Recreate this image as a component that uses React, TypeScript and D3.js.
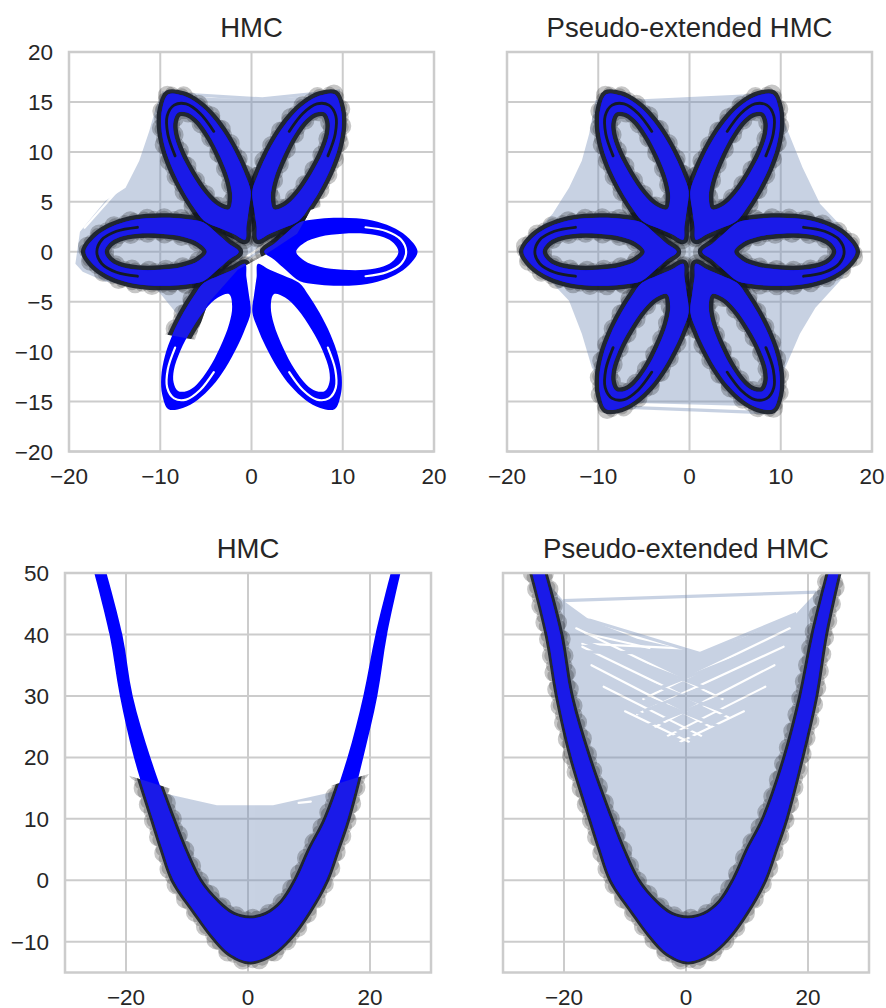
import React, { useEffect, useRef } from "react";
import * as d3 from "d3";

type Pt = [number, number];

const WIDTH = 886;
const HEIGHT = 1008;

const panelTitles = ["HMC", "Pseudo-extended HMC", "HMC", "Pseudo-extended HMC"];

const flowerTicksX = [-20, -10, 0, 10, 20];
const flowerTicksY = [-20, -15, -10, -5, 0, 5, 10, 15, 20];
const bananaTicksX = [-20, 0, 20];
const bananaTicksY = [-10, 0, 10, 20, 30, 40, 50];

// one petal of the flower target, pointing along +x (u along the petal, v across it)
const petalEdge: Pt[] = [
  [1.4, 0], [2.5, 0.8], [3.8, 1.85], [5.3, 2.95], [7, 3.25], [9, 3.4], [11.5, 3.35],
  [13.8, 3.0], [15.8, 2.3], [17.3, 1.3], [18.2, 0], [17.3, -1.3], [15.8, -2.3],
  [13.8, -3.0], [11.5, -3.35], [9, -3.4], [7, -3.25], [5.3, -2.95], [3.8, -1.85], [2.5, -0.8],
];
const petalHole: Pt[] = [
  [4.9, 0], [5.8, 0.9], [7.5, 1.5], [10, 1.8], [12.5, 1.8], [14.5, 1.45], [15.6, 0.85],
  [16.1, 0], [15.6, -0.85], [14.5, -1.45], [12.5, -1.8], [10, -1.8], [7.5, -1.5], [5.8, -0.9],
];
// thin split between the two contour levels near the tip
const petalSplit: Pt[] = [
  [12.5, 2.45], [14.8, 2.05], [16.4, 1.2], [16.95, 0], [16.4, -1.2], [14.8, -2.05], [12.5, -2.45],
];
const petalAngles = [0, 60, 120, 180, 240, 300];

// banana target: outer (lower) and inner (upper) edges of the band
const bananaOuter: Pt[] = [
  [-25.2, 50], [-22.7, 40], [-21.0, 30], [-18.7, 20], [-15.6, 10], [-14, 5], [-12.2, 0],
  [-8.8, -5], [-5.5, -9.4], [-3, -11.9], [0.3, -13.2], [4, -11.9], [6.8, -9.4], [10, -5],
  [12.8, 0], [14.6, 5], [16.3, 10], [18.9, 20], [21.2, 30], [22.8, 40], [25, 50],
];
const bananaInner: Pt[] = [
  [-23.2, 50], [-20.6, 40], [-18.9, 30], [-16, 20], [-12.4, 10], [-10.4, 5], [-8, 0],
  [-5, -3.6], [-2.4, -5.6], [0.3, -6.2], [3, -5.6], [5.6, -3.6], [7.9, 0], [10.2, 5],
  [12.8, 10], [16.3, 20], [18.9, 30], [20.9, 40], [23.4, 50],
];

// HMC on the flower
const hmcFlowerTrace: Pt[] = [
  [-19.3, -1.2], [-18.8, 2], [-16, 5.1], [-13.8, 6.4], [-12.3, 9.1], [-11.2, 12.1],
  [-10.5, 14.4], [-9.8, 15.9], [-4.3, 15.4], [1.2, 15.3], [6.7, 15.6], [9.7, 16.1],
  [9.6, 13], [8, 9], [6.5, 6], [5.5, 3.1], [4.5, 2], [1.5, 0.2], [-1.7, -1.4],
  [-4, -3.5], [-6.5, -5.8], [-7.4, -7.1], [-8.2, -6.2], [-10.5, -3.6], [-13, -3.3],
  [-16, -3], [-18.5, -2],
];
const hmcFlowerSampled: Pt[] = [
  [-22, -5], [-22, 4.5], [-13, 19], [13, 19], [13.5, 13], [9.5, 5], [6.5, 4.2], [5, 1.8],
  [1.5, -0.3], [-1.5, -1.8], [-4.8, -5.2], [-6.2, -8.8], [-9.8, -8.2], [-12, -5],
];
const hmcFlowerLines: Pt[][] = [
  [[-9.8, 15.9], [1.2, 15.3], [9.7, 16.1]],
];
const hmcFlowerGaps: Pt[][] = [
  [[-18.3, 2.4], [-14.6, 6.2]],
  [[-1.2, -0.9], [3.3, 1.8]],
];

// pseudo-extended HMC on the flower
const peFlowerTrace: Pt[] = [
  [-10.3, 15.2], [-5.2, 15.1], [2, 15.4], [8.5, 15.7], [10.2, 13.4], [12.4, 8.4],
  [14.3, 4.8], [16.8, 2.4], [18, 0.3], [16.8, -2.6], [13.8, -5.6], [12.1, -8.2],
  [10.5, -11.6], [8.2, -15.3], [2, -15.1], [-4, -15], [-8.4, -15.1], [-10.7, -11.6],
  [-11.8, -8.2], [-13.2, -4.9], [-16, -2.2], [-18.4, 0.4], [-15, 3.8], [-13.2, 6.4],
  [-11.8, 9.1], [-11, 11.8],
];
const peFlowerLines: Pt[][] = [
  [[-9.5, 15.4], [-5.2, 15.1], [8.6, 15.7]],
  [[-8.8, -14.9], [7.5, -15.3]],
  [[-8.8, -15.5], [8.2, -16.1]],
];
const peFlowerGaps: Pt[][] = [];

// HMC on the banana
const hmcBananaTrace: Pt[] = [
  [-16.2, 15.3], [-14, 14.2], [-5.1, 12.2], [4.1, 12.2], [13.5, 14.3], [15.5, 15.2],
  [14.5, 10], [11.5, 5], [8.5, 0], [5.5, -5], [0.3, -7.5], [-5, -5], [-8.8, 0],
  [-11.8, 5], [-14.4, 10],
];
const hmcBananaSampled: Pt[] = [
  [-30, 20], [-22, 17.8], [-12, 14.7], [12, 14.9], [22, 18], [30, 20.5], [30, -15], [-30, -15],
];
const hmcBananaLines: Pt[][] = [];
const hmcBananaGaps: Pt[][] = [[[8.3, 12.6], [10.3, 12.8]]];

// pseudo-extended HMC on the banana
const peBananaTrace: Pt[] = [
  [-23.6, 49.5], [-20.1, 45.5], [-15.7, 42.3], [-8, 39.3], [2.3, 36.9], [10, 39.8],
  [18.1, 43.4], [21.4, 46.9], [23.6, 49], [21.8, 42], [20, 32], [17.5, 22], [14.5, 12],
  [11, 4], [7, -3], [0.3, -8], [-6.5, -3], [-10.5, 4], [-14, 12], [-17.3, 22],
  [-19.8, 32], [-21.6, 42],
];
const peBananaLines: Pt[][] = [
  [[-20.1, 45.5], [21.4, 46.9]],
  [[-20.1, 42.8], [-15.7, 42.3], [2.3, 36.9], [18.1, 43.4]],
  [[-20.1, 37.2], [2.3, 36.9]],
  [[-18.5, 39.5], [4, 31]],
  [[-17.5, 36.5], [6, 27.5]],
  [[-16, 33.5], [8, 24]],
  [[-14, 30], [4, 22]],
  [[-12, 27], [3, 20.5]],
  [[16.5, 39.5], [-5, 31]],
  [[15.5, 36.5], [-7, 27.5]],
  [[15, 33.5], [-8, 24.5]],
  [[13, 30], [-5, 22]],
  [[11, 27], [-3, 20.5]],
];
const peBananaGaps: Pt[][] = [
  [[-18, 41], [6, 29.5]],
  [[-17, 38], [7, 26.5]],
  [[-15.5, 35], [4, 25]],
  [[-13.5, 31.5], [2.5, 23.5]],
  [[-10, 27.5], [0.5, 22.5]],
  [[17, 41], [-7, 29.5]],
  [[16, 38], [-8, 27]],
  [[14.5, 35], [-5, 25]],
  [[13, 31.5], [-3, 23.5]],
  [[9.5, 27.5], [-1, 22.5]],
  [[-16.5, 40.2], [-6, 37.8]],
  [[-17, 38.5], [2, 37.6]],
];

const panels = [
  {
    key: "tl", title: panelTitles[0], kind: "flower", left: 69, top: 52, width: 365, height: 399.5,
    xDomain: [-20, 20], yDomain: [-20, 20], xTicks: flowerTicksX, yTicks: flowerTicksY, showY: true,
    trace: hmcFlowerTrace, lines: hmcFlowerLines, gaps: hmcFlowerGaps, sampled: hmcFlowerSampled,
  },
  {
    key: "tr", title: panelTitles[1], kind: "flower", left: 507, top: 52, width: 365, height: 399.5,
    xDomain: [-20, 20], yDomain: [-20, 20], xTicks: flowerTicksX, yTicks: flowerTicksY, showY: false,
    trace: peFlowerTrace, lines: peFlowerLines, gaps: peFlowerGaps, sampled: null,
  },
  {
    key: "bl", title: panelTitles[2], kind: "banana", left: 65, top: 573, width: 366, height: 399.5,
    xDomain: [-30, 30], yDomain: [-15, 50], xTicks: bananaTicksX, yTicks: bananaTicksY, showY: true,
    trace: hmcBananaTrace, lines: hmcBananaLines, gaps: hmcBananaGaps, sampled: hmcBananaSampled,
  },
  {
    key: "br", title: panelTitles[3], kind: "banana", left: 503, top: 573, width: 366, height: 399.5,
    xDomain: [-30, 30], yDomain: [-15, 50], xTicks: bananaTicksX, yTicks: bananaTicksY, showY: false,
    trace: peBananaTrace, lines: peBananaLines, gaps: peBananaGaps, sampled: null,
  },
];

const FONT = "'Liberation Sans', Arial, sans-serif";
const TRACE = "#768fb9";
const BLUE = "#0000ff";
const BLUE_SAMPLED = "#1a1ae8";
const RIM = "#141a24";

const fmt = (v: number) => (v < 0 ? "\u2212" + Math.abs(v) : String(v));

const rotate = (pts: Pt[], deg: number): Pt[] => {
  const a = (deg * Math.PI) / 180;
  return pts.map(([u, v]) => [u * Math.cos(a) - v * Math.sin(a), u * Math.sin(a) + v * Math.cos(a)]);
};

// dots of the sampler scattered along an edge, then the dense dark core
function sampleEdge(sel: any, d: string, rimWidth: number) {
  sel.append("path").attr("d", d).attr("fill", "none").attr("stroke", "#000")
    .attr("stroke-opacity", 0.22).attr("stroke-width", 19)
    .attr("stroke-dasharray", "0 17").attr("stroke-linecap", "round");
  sel.append("path").attr("d", d).attr("fill", "none").attr("stroke", "#000")
    .attr("stroke-opacity", 0.2).attr("stroke-width", 14)
    .attr("stroke-dasharray", "0 10").attr("stroke-dashoffset", 5).attr("stroke-linecap", "round");
  sel.append("path").attr("d", d).attr("fill", "none").attr("stroke", RIM)
    .attr("stroke-opacity", 0.88).attr("stroke-width", rimWidth);
}

function drawPanel(svg: any, defs: any, p: any) {
  const x = d3.scaleLinear().domain(p.xDomain).range([p.left, p.left + p.width]);
  const y = d3.scaleLinear().domain(p.yDomain).range([p.top + p.height, p.top]);

  const straight = d3.line<Pt>().x((d) => x(d[0])).y((d) => y(d[1]));
  const closed = d3.line<Pt>().x((d) => x(d[0])).y((d) => y(d[1])).curve(d3.curveCatmullRomClosed);
  const open = d3.line<Pt>().x((d) => x(d[0])).y((d) => y(d[1])).curve(d3.curveCatmullRom);

  const g = svg.append("g");

  // grid
  g.append("g")
    .selectAll("line")
    .data(p.xTicks)
    .join("line")
    .attr("x1", (d: number) => x(d))
    .attr("x2", (d: number) => x(d))
    .attr("y1", p.top)
    .attr("y2", p.top + p.height)
    .attr("stroke", "#cccccc")
    .attr("stroke-width", 2);
  g.append("g")
    .selectAll("line")
    .data(p.yTicks)
    .join("line")
    .attr("x1", p.left)
    .attr("x2", p.left + p.width)
    .attr("y1", (d: number) => y(d))
    .attr("y2", (d: number) => y(d))
    .attr("stroke", "#cccccc")
    .attr("stroke-width", 2);

  defs
    .append("clipPath")
    .attr("id", `ax-${p.key}`)
    .append("rect")
    .attr("x", p.left)
    .attr("y", p.top)
    .attr("width", p.width)
    .attr("height", p.height);
  const body = g.append("g").attr("clip-path", `url(#ax-${p.key})`);

  // chain trace, filled
  const tr = body.append("g").attr("opacity", 0.4);
  tr.append("path").attr("d", straight(p.trace) + "Z").attr("fill", TRACE);
  tr.selectAll(".gap")
    .data(p.gaps)
    .join("path")
    .attr("d", (d: Pt[]) => straight(d))
    .attr("fill", "none")
    .attr("stroke", "#ffffff")
    .attr("stroke-width", 2.2)
    .attr("stroke-linecap", "round");
  tr.selectAll(".ln")
    .data(p.lines)
    .join("path")
    .attr("d", (d: Pt[]) => straight(d))
    .attr("fill", "none")
    .attr("stroke", TRACE)
    .attr("stroke-width", 3.2);

  let sampledClip: string | null = null;
  if (p.sampled) {
    sampledClip = `smp-${p.key}`;
    defs.append("clipPath").attr("id", sampledClip).append("path").attr("d", straight(p.sampled) + "Z");
  }
  const samples = body.append("g");
  if (sampledClip) samples.attr("clip-path", `url(#${sampledClip})`);
  const blue = body.append("g");
  const tint = body.append("g");
  if (sampledClip) tint.attr("clip-path", `url(#${sampledClip})`);

  if (p.kind === "flower") {
    const petals = petalAngles.map((a) => ({
      edge: closed(rotate(petalEdge, a)) as string,
      hole: closed(rotate(petalHole, a)) as string,
      split: open(rotate(petalSplit, a)) as string,
    }));

    petals.forEach((pt) => sampleEdge(samples, pt.edge, 9));
    petals.forEach((pt) => sampleEdge(samples, pt.hole, 9));

    // target density contours
    petals.forEach((pt) => {
      blue.append("path").attr("d", pt.edge + pt.hole).attr("fill", BLUE).attr("fill-rule", "evenodd");
      blue.append("path").attr("d", pt.split).attr("fill", "none").attr("stroke", "#ffffff")
        .attr("stroke-width", 2.2).attr("stroke-linecap", "round");
    });
    petals.forEach((pt) => {
      tint.append("path").attr("d", pt.edge + pt.hole).attr("fill", BLUE_SAMPLED).attr("fill-rule", "evenodd");
      tint.append("path").attr("d", pt.split).attr("fill", "none").attr("stroke", RIM)
        .attr("stroke-width", 2.8).attr("stroke-linecap", "round");
    });
  } else {
    const edges = [open(bananaOuter) as string, open(bananaInner) as string];
    const band =
      (open(bananaOuter) as string) + "L" + (open([...bananaInner].reverse()) as string).slice(1) + "Z";

    edges.forEach((d) => sampleEdge(samples, d, 6));
    blue.append("path").attr("d", band).attr("fill", BLUE);
    tint.append("path").attr("d", band).attr("fill", BLUE_SAMPLED);
  }

  // frame
  g.append("rect")
    .attr("x", p.left)
    .attr("y", p.top)
    .attr("width", p.width)
    .attr("height", p.height)
    .attr("fill", "none")
    .attr("stroke", "#cccccc")
    .attr("stroke-width", 2.5);

  // tick labels
  g.append("g")
    .selectAll("text")
    .data(p.xTicks)
    .join("text")
    .attr("x", (d: number) => x(d))
    .attr("y", p.top + p.height + 32)
    .attr("text-anchor", "middle")
    .attr("font-family", FONT)
    .attr("font-size", 22.5)
    .attr("fill", "#262626")
    .text((d: number) => fmt(d));
  if (p.showY) {
    g.append("g")
      .selectAll("text")
      .data(p.yTicks)
      .join("text")
      .attr("x", p.left - 16)
      .attr("y", (d: number) => y(d))
      .attr("dy", "0.36em")
      .attr("text-anchor", "end")
      .attr("font-family", FONT)
      .attr("font-size", 22.5)
      .attr("fill", "#262626")
      .text((d: number) => fmt(d));
  }

  // title
  g.append("text")
    .attr("x", p.left + p.width / 2)
    .attr("y", p.top - 15)
    .attr("text-anchor", "middle")
    .attr("font-family", FONT)
    .attr("font-size", 27.5)
    .attr("fill", "#262626")
    .text(p.title);
}

const App = () => {
  const chartRef = useRef<SVGSVGElement>(null);

  useEffect(() => {
    if (!chartRef.current) return;
    const svg = d3.select(chartRef.current);
    svg.selectAll("*").remove();
    const defs = svg.append("defs");
    panels.forEach((p) => drawPanel(svg, defs, p));
  }, []);

  return (
    <svg
      ref={chartRef}
      width={WIDTH}
      height={HEIGHT}
      style={{ position: "absolute", left: 0, top: 0, background: "#ffffff" }}
    />
  );
};

export default App;
